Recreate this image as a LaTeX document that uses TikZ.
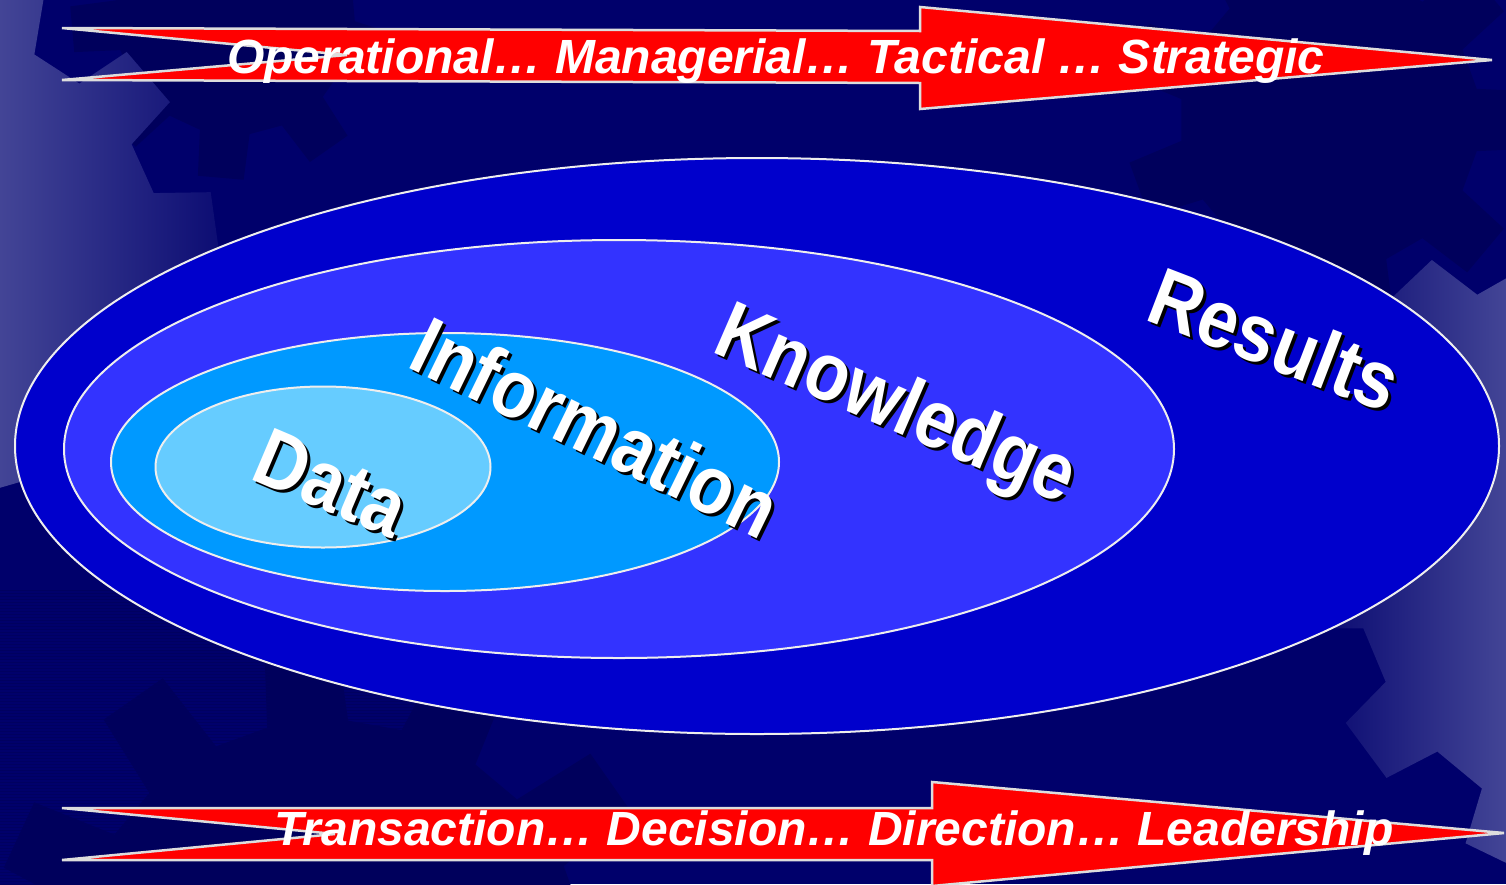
\documentclass[tikz,border=0pt]{standalone}
\usepackage{fontspec}
\setmainfont{Liberation Sans}
\usetikzlibrary{shapes.geometric}

\definecolor{bgnavy}{HTML}{00006B}
\definecolor{geardark}{HTML}{00005C}
\definecolor{gearlight}{HTML}{434596}
\definecolor{stripe}{HTML}{000060}
\definecolor{ringR}{HTML}{0000CC}
\definecolor{ringK}{HTML}{3333FF}
\definecolor{ringI}{HTML}{0099FF}
\definecolor{ringD}{HTML}{66CCFF}
\definecolor{rim}{HTML}{EEEEEE}
\definecolor{arrowred}{HTML}{FF0000}
\definecolor{arrowrim}{HTML}{DDDDDD}

% gear outline: options, centre x, centre y, root radius, tip radius, teeth, phase
\newcommand\gearat[7]{%
  \pgfmathsetmacro\gst{360/#6}%
  \path[#1] ({#2+#5*cos(#7-0.2*\gst)},{#3+#5*sin(#7-0.2*\gst)})
    \foreach \k in {1,...,#6}{
      -- ({#2+#5*cos(#7+(\k-1)*\gst+0.2*\gst)},{#3+#5*sin(#7+(\k-1)*\gst+0.2*\gst)})
      -- ({#2+#4*cos(#7+(\k-1)*\gst+0.3*\gst)},{#3+#4*sin(#7+(\k-1)*\gst+0.3*\gst)})
      -- ({#2+#4*cos(#7+\k*\gst-0.3*\gst)},{#3+#4*sin(#7+\k*\gst-0.3*\gst)})
      -- ({#2+#5*cos(#7+\k*\gst-0.2*\gst)},{#3+#5*sin(#7+\k*\gst-0.2*\gst)})
    } -- cycle;}

% tall bold label text
\newcommand\talltext[1]{\scalebox{1}[1.14]{#1}}

\tikzset{
  ring/.style={ellipse, draw=rim, line width=2pt, inner sep=0pt},
  lbl/.style={font=\fontsize{72}{80}\selectfont\bfseries, inner sep=0pt,
    text height=59pt, text depth=0pt},
  lblshadow/.style={lbl, text=black},
  lbltext/.style={lbl, text=white},
  banner/.style={fill=arrowred, draw=arrowrim, line width=2.5pt, line join=miter},
  bannertext/.style={font=\fontsize{48}{54}\selectfont\bfseries\itshape,
    text=white, inner sep=0pt, anchor=base west},
}

\begin{document}
\begin{tikzpicture}[x=1pt, y=-1pt]
\path[use as bounding box] (0,0) rectangle (1506,884);
\clip (0,0) rectangle (1506,884);

% background
\fill[bgnavy] (0,0) rectangle (1506,884);

% scan-line texture in the lower left
\begin{scope}
  \clip (0,590) rectangle (420,884);
  \foreach \yy in {590,593,...,884} \draw[stripe, line width=1pt] (0,\yy) -- (420,\yy);
\end{scope}

% dark gears
\gearat{fill=geardark}{235}{15}{120}{165}{9}{15}
\gearat{fill=geardark}{330}{980}{260}{345}{12}{-95}
\gearat{fill=geardark}{1330}{120}{150}{205}{9}{40}

% light gear on the left
\begin{scope}
  \gearat{clip}{-70}{265}{235}{290}{11}{-8}
  \shade[left color=gearlight, right color=bgnavy] (0,0) rectangle (270,884);
\end{scope}
% light gear on the right
\begin{scope}
  \gearat{clip}{1650}{540}{300}{355}{13}{5}
  \shade[left color=bgnavy, right color=gearlight] (1290,0) rectangle (1506,884);
\end{scope}

% nested ellipses
\node[ring, fill=ringR, minimum width=1484pt, minimum height=576pt] (results) at (757,446) {};
\node[ring, fill=ringK, minimum width=1110pt, minimum height=418pt] (knowledge) at (619,449) {};
\node[ring, fill=ringI, minimum width=668pt, minimum height=258pt] (information) at (445,462) {};
\node[ring, fill=ringD, minimum width=335pt, minimum height=161pt] (data) at (323,467) {};

% labels with drop shadows
\node[lblshadow, rotate=-23] (dataS) at (335,485) {\talltext{Data}};
\node[lbltext, rotate=-23] (dataL) at (332,482) {\talltext{Data}};
\node[lblshadow, rotate=-26] (infoS) at (599,430) {\talltext{Information}};
\node[lbltext, rotate=-26] (infoL) at (596,427) {\talltext{Information}};
\node[lblshadow, rotate=-23.5] (knowS) at (901,404) {\talltext{Knowledge}};
\node[lbltext, rotate=-23.5] (knowL) at (898,401) {\talltext{Knowledge}};
\node[lblshadow, rotate=-21] (resS) at (1278,342) {\talltext{Results}};
\node[lbltext, rotate=-21] (resL) at (1275,339) {\talltext{Results}};

% top banner arrow
\draw[banner] (62,28) -- (920,31) -- (920,7) -- (1492,60) -- (920,109)
  -- (920,83) -- (62,80) -- (347,55) -- cycle;
\node[bannertext] (topline) at (227,73)
  {Operational… Managerial… Tactical … Strategic};

% bottom banner arrow
\draw[banner] (62,808) -- (932,808) -- (932,782) -- (1504,833) -- (932,886)
  -- (932,860) -- (62,860) -- (335,834) -- cycle;
\node[bannertext] (bottomline) at (274,845)
  {Transaction… Decision… Direction… Leadership};
\end{tikzpicture}
\end{document}
